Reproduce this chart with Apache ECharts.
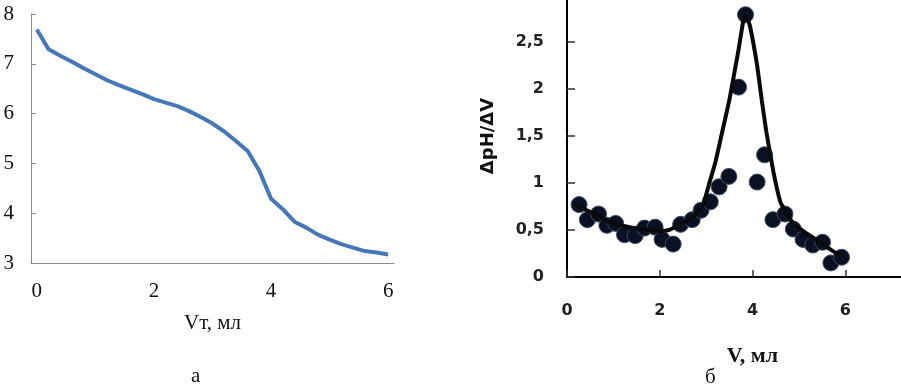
<!DOCTYPE html>
<html><head><meta charset="utf-8">
<script src="https://cdn.jsdelivr.net/npm/echarts@6/dist/echarts.min.js"></script>
<style>html,body{margin:0;padding:0;background:#fff}#c{width:901px;height:387px}</style>
</head><body><div id="c"></div>
<script>
// Left chart: pH vs titrant volume
const vtCategories = [0,0.2,0.4,0.6,0.8,1,1.2,1.4,1.6,1.8,2,2.2,2.4,2.6,2.8,3,3.2,3.4,3.6,3.8,4,4.2,4.4,4.6,4.8,5,5.2,5.4,5.6,5.8,6];
const phValues = [7.69,7.29,7.16,7.04,6.91,6.79,6.67,6.57,6.48,6.39,6.29,6.22,6.15,6.05,5.93,5.80,5.64,5.45,5.25,4.85,4.29,4.08,3.83,3.71,3.57,3.47,3.38,3.31,3.24,3.21,3.17];
const leftYTicks = [3,4,5,6,7,8];
// Right chart: derivative dpH/dV
const derivPoints = [[0.26,0.77],[0.44,0.61],[0.68,0.67],[0.86,0.55],[1.05,0.57],[1.24,0.45],[1.47,0.44],[1.67,0.52],[1.90,0.53],[2.05,0.40],[2.29,0.35],[2.45,0.56],[2.70,0.61],[2.89,0.71],[3.09,0.80],[3.28,0.96],[3.49,1.07],[3.70,2.02],[3.85,2.79],[4.10,1.01],[4.26,1.30],[4.44,0.61],[4.70,0.67],[4.88,0.51],[5.09,0.40],[5.30,0.34],[5.51,0.37],[5.69,0.15],[5.92,0.21]];
const derivCurve = [[0.25,0.75],[0.55,0.68],[0.9,0.59],[1.25,0.54],[1.6,0.51],[2.0,0.49],[2.2,0.50],[2.4,0.55],[2.7,0.63],[2.9,0.74],[2.97,0.82],[3.07,1.0],[3.2,1.22],[3.35,1.55],[3.5,1.88],[3.7,2.42],[3.8,2.72],[3.87,2.78],[3.95,2.66],[4.1,2.25],[4.2,1.88],[4.3,1.54],[4.45,1.12],[4.6,0.8],[4.75,0.66],[4.9,0.56],[5.15,0.47],[5.45,0.37],[5.75,0.27],[5.95,0.22]];
const rightXTicks = [0,2,4,6,8];
const rightYTicks = [0,0.5,1,1.5,2,2.5,3];

const serif = 'Liberation Serif';
const sans = 'DejaVu Sans';
const chart = echarts.init(document.getElementById('c'));
chart.setOption({
  animation:false,
  grid:[
    {left:31, top:14, right:507, bottom:124, outerBoundsMode:'none', containLabel:false},
    {left:567, top:-5, right:-37, bottom:110, outerBoundsMode:'none', containLabel:false}
  ],
  xAxis:[
    {gridIndex:0, type:'category', data:vtCategories.map(String), boundaryGap:true,
     name:'Vт, мл', nameLocation:'middle', nameGap:50,
     nameTextStyle:{fontFamily:serif, fontSize:21, color:'#111'},
     axisLine:{lineStyle:{color:'#8a8a8a', width:1}},
     axisTick:{inside:true, length:6, interval:0, lineStyle:{color:'#8a8a8a'}},
     axisLabel:{interval:9, margin:18, fontFamily:serif, fontSize:21, color:'#111'},
     splitLine:{show:false}},
    {gridIndex:1, type:'value', min:rightXTicks[0], max:rightXTicks[rightXTicks.length-1], interval:2,
     name:'V, мл', nameLocation:'middle', nameGap:68,
     nameTextStyle:{fontFamily:serif, fontWeight:'bold', fontSize:22, color:'#111'},
     axisLine:{lineStyle:{color:'#000', width:2}},
     axisTick:{inside:true, length:7, lineStyle:{color:'#333', width:1.5}},
     axisLabel:{margin:26, fontFamily:sans, fontWeight:'bold', fontSize:16, color:'#222'},
     splitLine:{show:false}}
  ],
  yAxis:[
    {gridIndex:0, type:'value', min:leftYTicks[0], max:leftYTicks[leftYTicks.length-1], interval:1,
     axisLine:{show:true, lineStyle:{color:'#8a8a8a', width:1}},
     axisTick:{show:true, inside:true, length:5, lineStyle:{color:'#8a8a8a'}},
     axisLabel:{margin:17, fontFamily:serif, fontSize:21, color:'#111'},
     splitLine:{show:false}},
    {gridIndex:1, type:'value', min:rightYTicks[0], max:rightYTicks[rightYTicks.length-1], interval:0.5,
     name:'ΔpH/ΔV', nameLocation:'middle', nameGap:70, nameRotate:90,
     nameTextStyle:{fontFamily:sans, fontWeight:'bold', fontSize:18, color:'#111'},
     axisLine:{show:true, lineStyle:{color:'#000', width:2}},
     axisTick:{show:true, inside:true, length:8, lineStyle:{color:'#333', width:1.5}},
     axisLabel:{margin:23, fontFamily:sans, fontWeight:'bold', fontSize:16, color:'#222',
       formatter:v=>String(v).replace('.',',')},
     splitLine:{show:false}}
  ],
  series:[
    {type:'line', xAxisIndex:0, yAxisIndex:0, data:phValues, showSymbol:false,
     lineStyle:{color:'#4677b8', width:4}},
    {type:'line', xAxisIndex:1, yAxisIndex:1, data:derivCurve, showSymbol:false, smooth:0.1,
     lineStyle:{color:'#0a0a0a', width:4}},
    {type:'scatter', xAxisIndex:1, yAxisIndex:1, data:derivPoints, symbolSize:16,
     itemStyle:{color:'#0b1122', opacity:1, borderColor:'#3e4a64', borderWidth:1}}
  ],
  graphic:[
    {type:'text', left:191, top:366, style:{text:'а', font:'21px "Liberation Serif"', fill:'#111'}},
    {type:'text', left:705, top:367, style:{text:'б', font:'21px "Liberation Serif"', fill:'#111'}}
  ]
});
</script></body></html>
